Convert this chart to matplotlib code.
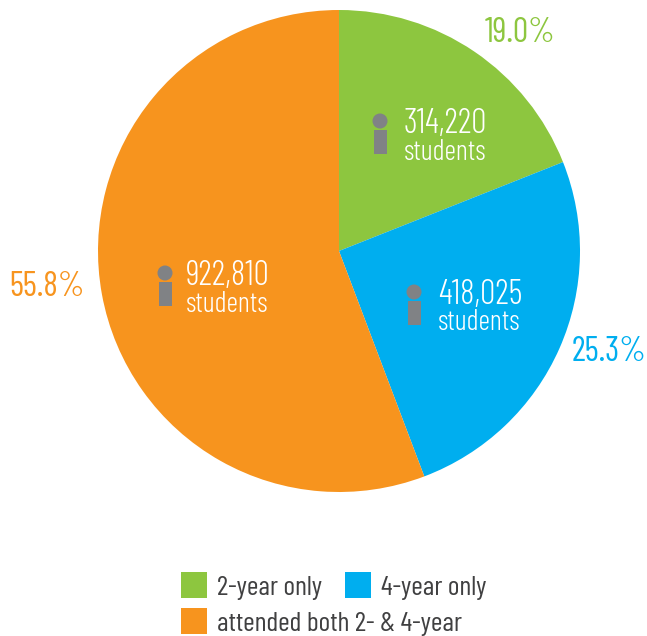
import matplotlib
matplotlib.use("Agg")
import matplotlib.pyplot as plt
from matplotlib.patches import Circle, Rectangle
from matplotlib import font_manager as fm

W, H = 647, 636
labels = ["2-year only", "4-year only", "attended both 2- & 4-year"]
students = [314220, 418025, 922810]
student_labels = ["314,220", "418,025", "922,810"]
pct_labels = ["19.0%", "25.3%", "55.8%"]
colors = ["#8DC63F", "#00AEEF", "#F7941E"]
pct_pos = [(520, 33), (609, 352), (47, 287)]
info_pos = [(404, 138), (438, 309), (186, 290)]
icon_pos = [(380, 121), (414, 292), (165, 273)]

installed = {f.name for f in fm.fontManager.ttflist}
fams = [n for n in ["Barlow Condensed", "Roboto Condensed", "Archivo Narrow", "Roboto"] if n in installed] + ["DejaVu Sans"]
plt.rcParams['font.family'] = fams
fig = plt.figure(figsize=(W / 100, H / 100), dpi=100)
bg = fig.add_axes([0, 0, 1, 1])
bg.set_xlim(0, W)
bg.set_ylim(H, 0)
bg.axis("off")

pie_ax = fig.add_axes([98 / W, 1 - 492 / H, 482 / W, 482 / H])
pie_ax.pie(students, colors=colors, startangle=90, counterclock=False, radius=1,
           wedgeprops=dict(linewidth=0))
pie_ax.set_xlim(-1, 1)
pie_ax.set_ylim(-1, 1)
pie_ax.set_aspect("equal")

GREY = "#808285"
for (ix, iy), (tx, ty), s, p, c, (px, py) in zip(icon_pos, info_pos, student_labels, pct_labels, colors, pct_pos):
    bg.text(tx, ty - 14, s, color="white", fontsize=24.5, fontweight=300, va="center", ha="left", zorder=5)
    bg.text(tx, ty + 14, "students", color="white", fontsize=20.5, fontweight=300, va="center", ha="left", zorder=5)
    bg.text(px, py, p, color=c, fontsize=24.5, fontweight=400, va="center", ha="center", zorder=5)
    bg.add_patch(Circle((ix, iy), 7.5, color=GREY, lw=0, zorder=5))
    bg.add_patch(Rectangle((ix - 6.5, iy + 9), 13, 24, color=GREY, lw=0, zorder=5))
bg.set_zorder(3)
bg.patch.set_alpha(0)

legend_pos = [(181, 572), (345, 572), (181, 608)]
for (x, y), c, lab in zip(legend_pos, colors, labels):
    bg.add_patch(Rectangle((x, y), 26, 26, color=c, lw=0))
    bg.text(x + 36, y + 16, lab, color="#404041", fontsize=20, fontweight=400, va="center", ha="left")

fig.savefig("out.png", dpi=100)
